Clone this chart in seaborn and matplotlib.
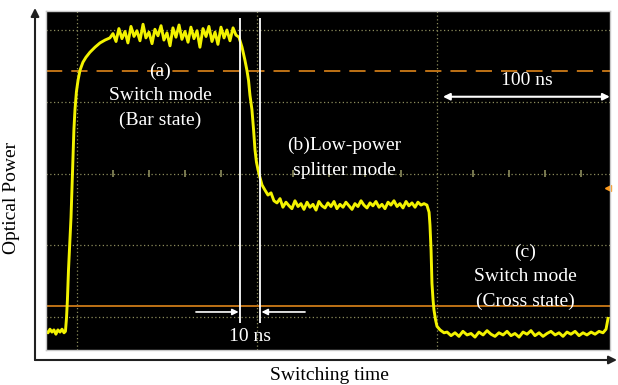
import numpy as np
import pandas as pd
import matplotlib
matplotlib.use("Agg")
import matplotlib.pyplot as plt
import seaborn as sns

# trace: time in ns, power in screen divisions
low1_t = [-17.2, -16.1, -15.0, -13.9, -12.8, -11.7, -10.6, -9.4, -8.3, -7.2, -6.4]
low1_v = [-0.20, -0.22, -0.17, -0.21, -0.18, -0.24, -0.18, -0.21, -0.17, -0.22, -0.20]

rise_t = [-5.8, -5.3, -4.7, -3.9, -3.3, -2.8, -2.2, -1.7, -1.1, -0.3, 0.6, 1.7,
          3.3, 5.0, 7.2, 10.0, 12.8, 15.6, 18.3]
rise_v = [-0.01, 0.24, 0.66, 1.07, 1.39, 1.77, 2.19, 2.61, 2.89, 3.14, 3.30, 3.44,
          3.55, 3.62, 3.69, 3.76, 3.82, 3.86, 3.89]

bar_t = [20.0, 21.7, 23.3, 25.0, 26.7, 28.3, 30.0, 31.7, 33.3, 35.0, 36.7, 38.3,
         40.0, 41.7, 43.3, 45.0, 46.7, 48.3, 50.0, 51.7, 53.3, 55.0, 56.7, 58.3,
         60.0, 61.7, 63.3, 65.0, 66.7, 68.3, 70.0, 71.7, 73.3, 75.0, 76.7, 78.3,
         80.0, 81.7, 83.3, 85.0, 86.7, 88.3, 90.0]
bar_v = [3.95, 3.84, 4.02, 3.88, 3.98, 3.82, 4.05, 3.91, 3.99, 3.85, 4.08, 3.89,
         3.97, 3.81, 4.01, 3.92, 4.06, 3.86, 3.96, 3.78, 4.03, 3.90, 4.07, 3.87,
         3.98, 3.83, 4.04, 3.88, 3.99, 3.76, 4.02, 3.91, 4.05, 3.84, 3.97, 3.80,
         4.04, 3.89, 4.00, 3.85, 4.03, 3.93, 3.90]

fall1_t = [91.7, 93.3, 94.4, 95.3, 96.1, 97.2, 98.1, 98.9, 99.7, 100.6, 101.7,
           102.8, 104.4, 106.1, 107.8, 109.4, 111.1, 112.8]
fall1_v = [3.76, 3.58, 3.44, 3.30, 3.09, 2.89, 2.61, 2.33, 2.16, 2.05, 1.94,
           1.84, 1.77, 1.70, 1.73, 1.62, 1.59, 1.65]

split_t = [114.4, 116.1, 117.8, 119.4, 121.1, 122.8, 124.4, 126.1, 127.8, 129.4,
           131.1, 132.8, 134.4, 136.1, 137.8, 139.4, 141.1, 142.8, 144.4, 146.1,
           147.8, 149.4, 151.1, 152.8, 154.4, 156.1, 157.8, 159.4, 161.1, 162.8,
           164.4, 166.1, 167.8, 169.4, 171.1, 172.8, 174.4, 176.1, 177.8, 179.4,
           181.1, 182.8, 184.4, 186.1, 187.8, 189.4, 191.1, 192.8, 194.4]
split_v = [1.53, 1.60, 1.55, 1.51, 1.62, 1.54, 1.58, 1.50, 1.60, 1.53,
           1.57, 1.49, 1.61, 1.55, 1.52, 1.59, 1.54, 1.61, 1.51, 1.57,
           1.53, 1.60, 1.55, 1.50, 1.58, 1.54, 1.62, 1.56, 1.52, 1.59,
           1.55, 1.61, 1.53, 1.57, 1.51, 1.60, 1.56, 1.62, 1.54, 1.58,
           1.52, 1.61, 1.55, 1.59, 1.53, 1.60, 1.56, 1.58, 1.56]

fall2_t = [195.6, 196.1, 196.7, 197.2, 197.8, 198.3, 199.2, 200.0, 201.7, 203.9]
fall2_v = [1.46, 1.28, 0.93, 0.47, 0.24, 0.10, -0.04, -0.13, -0.18, -0.22]

cross_t = [205.6, 207.8, 210.0, 212.2, 214.4, 216.7, 218.9, 221.1, 223.3, 225.6,
           227.8, 230.0, 232.2, 234.4, 236.7, 238.9, 241.1, 243.3, 245.6, 247.8,
           250.0, 252.2, 254.4, 256.7, 258.9, 261.1, 263.3, 265.6, 267.8, 270.0,
           272.2, 274.4, 276.7, 278.9, 281.1, 283.3, 285.6, 287.8, 290.0, 292.2,
           293.9, 295.0]
cross_v = [-0.21, -0.26, -0.22, -0.27, -0.20, -0.25, -0.23, -0.28, -0.21, -0.25,
           -0.19, -0.24, -0.27, -0.22, -0.25, -0.20, -0.26, -0.23, -0.28, -0.21,
           -0.24, -0.19, -0.26, -0.22, -0.27, -0.23, -0.20, -0.25, -0.22, -0.27,
           -0.21, -0.24, -0.20, -0.26, -0.22, -0.25, -0.21, -0.24, -0.20, -0.22,
           -0.17, -0.02]

# scope screen settings
grid_t = [0, 100, 200]
grid_v = [0, 1, 2, 3, 4]
minor_t = [20, 40, 60, 80, 120, 140, 160, 180, 220, 240, 260, 280]
cursor_t = [90.6, 101.7]
upper_level = 3.43
lower_level = 0.15
trigger_level = 1.80

trace = pd.DataFrame({
    "t": low1_t + rise_t + bar_t + fall1_t + split_t + fall2_t + cross_t,
    "v": low1_v + rise_v + bar_v + fall1_v + split_v + fall2_v + cross_v,
})

plt.rcParams["font.family"] = ["Liberation Serif", "DejaVu Serif"]

fig = plt.figure(figsize=(6.18, 3.85), dpi=100)
ax = fig.add_axes([46 / 618, 35 / 385, 564 / 618, 339 / 385])
ax.set_facecolor("black")
ax.set_xlim(-17.2, 296.1)
ax.set_ylim(-0.46, 4.265)

ax.set_xticks(grid_t)
ax.set_yticks(grid_v)
ax.tick_params(length=0, labelbottom=False, labelleft=False)
ax.grid(True, color="#8c8c5c", linestyle=(0, (1, 2)), linewidth=0.9)
ax.vlines(minor_t, 2 - 0.045, 2 + 0.045, color="#8c8c5c", linewidth=1.2)
for s in ax.spines.values():
    s.set_color("#c8c8c8")
    s.set_linewidth(1.0)

# reference levels
ax.axhline(upper_level, color="#cc7a18", linewidth=1.3, dashes=(9, 5))
ax.axhline(lower_level, color="#cc7a18", linewidth=1.3)
ax.plot([295.2], [trigger_level], marker="<", color="#ff9a1a", markersize=5,
        clip_on=False)

sns.lineplot(data=trace, x="t", y="v", estimator=None, sort=False,
             color="#f2f200", linewidth=2.1, ax=ax)
ax.set_xlabel("")
ax.set_ylabel("")

# cursors
ax.vlines(cursor_t, -0.08, 4.17, color="white", linewidth=1.3)

arrow_kw = dict(arrowstyle="-|>", color="white", lw=1.2, mutation_scale=9,
                shrinkA=0, shrinkB=0)
ax.annotate("", xy=(cursor_t[0] - 0.8, 0.07), xytext=(66.1, 0.07),
            arrowprops=arrow_kw)
ax.annotate("", xy=(cursor_t[1] + 0.8, 0.07), xytext=(126.7, 0.07),
            arrowprops=arrow_kw)
ax.annotate("", xy=(296.0, 3.07), xytext=(203.3, 3.07),
            arrowprops=dict(arrowstyle="<|-|>", color="white", lw=1.5,
                            mutation_scale=10, shrinkA=0, shrinkB=0))

txt = dict(color="white", fontsize=14, ha="center", va="center")
ax.text(96.1, -0.265, "10 ns", **txt)
ax.text(250.0, 3.30, "100 ns", **txt)
ax.text(46.1, 3.08, "(a)\nSwitch mode\n(Bar state)", linespacing=1.58, **txt)
ax.text(148.3, 2.215, "(b)Low-power\nsplitter mode", linespacing=1.58, **txt)
ax.text(248.9, 0.56, "(c)\nSwitch mode\n(Cross state)", linespacing=1.55, **txt)

# outer frame with axis arrows
frame_kw = dict(arrowstyle="-|>", color="#202020", lw=1.5, mutation_scale=12,
                shrinkA=0, shrinkB=0)
ax.annotate("", xy=(35 / 618, 377 / 385), xytext=(35 / 618, 25 / 385),
            xycoords="figure fraction", textcoords="figure fraction",
            arrowprops=frame_kw)
ax.annotate("", xy=(617 / 618, 25 / 385), xytext=(35 / 618, 25 / 385),
            xycoords="figure fraction", textcoords="figure fraction",
            arrowprops=frame_kw)

fig.text(329 / 618, 9 / 385, "Switching time", fontsize=14, ha="center",
         va="center", color="black")
fig.text(12 / 618, 187 / 385, "Optical Power", fontsize=14, ha="center",
         va="center", rotation=90, color="black")

fig.savefig("out.png", dpi=100, facecolor="white")
